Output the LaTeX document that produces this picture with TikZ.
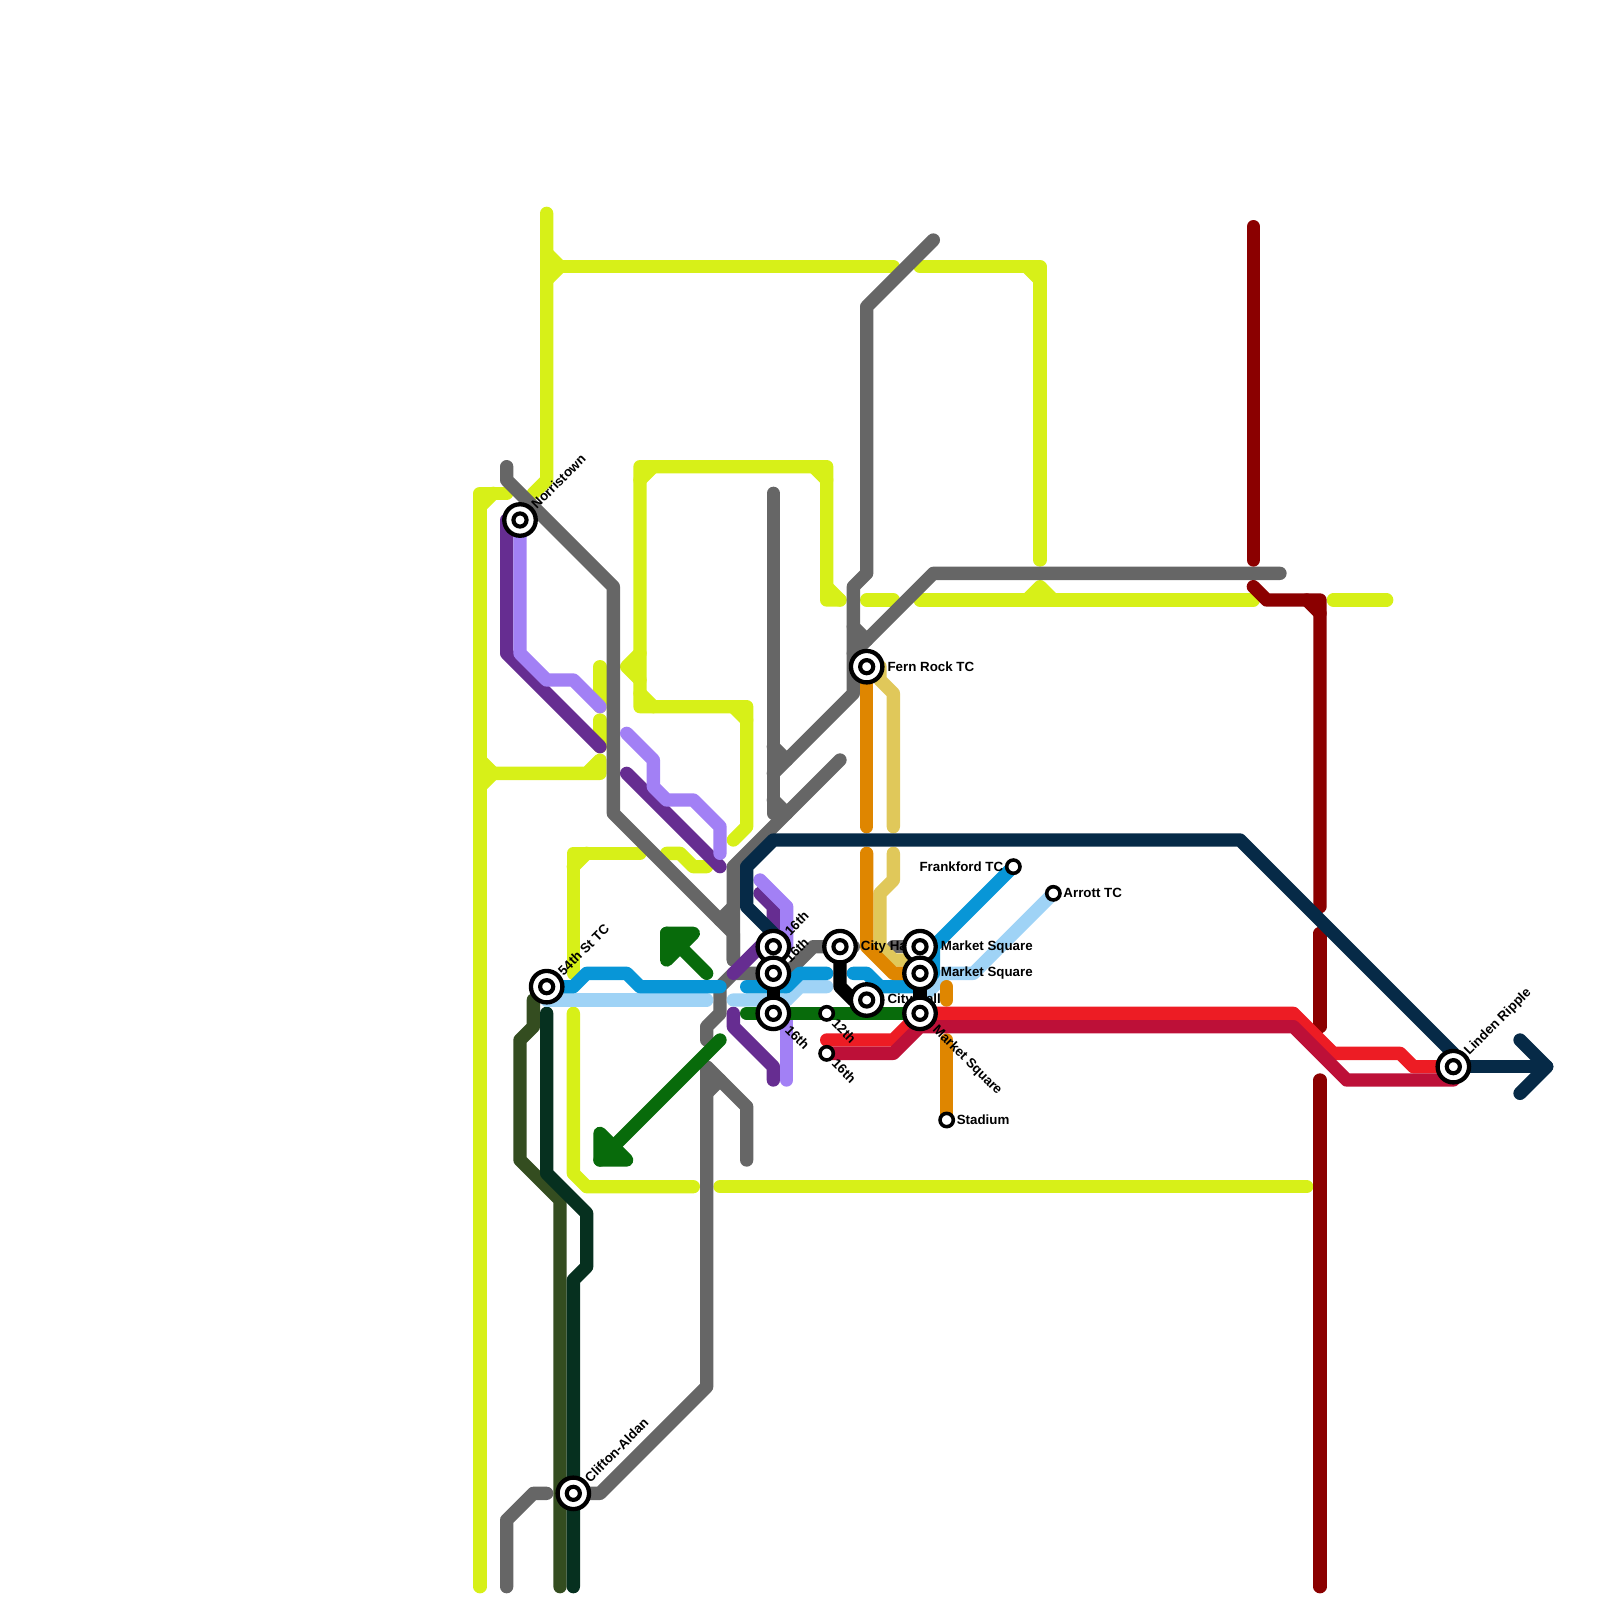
\documentclass[tikz,border=0pt]{standalone}
\usepackage{fontspec}
\setmainfont{Liberation Sans}
\usepackage{xcolor}
\usetikzlibrary{positioning}

\definecolor{ltyellow}{HTML}{D7F018}
\definecolor{ltgray}{HTML}{666666}
\definecolor{ltplum}{HTML}{662D91}
\definecolor{ltlilac}{HTML}{A280F5}
\definecolor{ltnavy}{HTML}{062A47}
\definecolor{ltmaroon}{HTML}{8B0000}
\definecolor{ltred}{HTML}{ED1C24}
\definecolor{ltcrimson}{HTML}{BD1038}
\definecolor{ltgreen}{HTML}{086B0B}
\definecolor{ltblue}{HTML}{0896D7}
\definecolor{ltsky}{HTML}{9FD3F6}
\definecolor{ltorange}{HTML}{DF8600}
\definecolor{ltmustard}{HTML}{E0C85A}
\definecolor{ltolive}{HTML}{344D20}
\definecolor{ltpine}{HTML}{06301F}

\begin{document}
\begin{tikzpicture}[x=0.25cm, y=-0.25cm,
  line/.style={draw, line width=7.11pt, line cap=round, line join=round},
  bigstop/.style={circle, draw=black, fill=white, line width=2.3pt, minimum size=16.8pt, inner sep=0pt,
    path picture={\draw[black, line width=2.2pt] (path picture bounding box.center) circle (3.5pt);}},
  smallstop/.style={circle, draw=black, fill=white, line width=1.9pt, minimum size=7.1pt, inner sep=0pt},
  stopname/.style={font=\fontsize{7.11}{8}\selectfont\bfseries, inner sep=1.4pt},
  upname/.style={stopname, rotate=45, anchor=west, inner sep=0.5pt},
  downname/.style={stopname, rotate=-45, anchor=west, inner sep=1.2pt}]
  \useasboundingbox (0,0) rectangle (120,120);

  \coordinate (norristown) at (39,39);
  \coordinate (fiftyfourth) at (41,74);
  \coordinate (clifton) at (43,112);
  \coordinate (linden) at (109,80);
  \coordinate (fernrock) at (65,50);
  \coordinate (sixteenthA) at (58,71);
  \coordinate (sixteenthB) at (58,73);
  \coordinate (sixteenthC) at (58,76);
  \coordinate (twelfth) at (62,76);
  \coordinate (sixteenthD) at (62,79);
  \coordinate (cityhallA) at (63,71);
  \coordinate (cityhallB) at (65,75);
  \coordinate (marketA) at (69,71);
  \coordinate (marketB) at (69,73);
  \coordinate (marketC) at (69,76);
  \coordinate (frankford) at (76,65);
  \coordinate (arrott) at (79,67);
  \coordinate (stadium) at (71,84);

  % yellow
  \draw [line, ltyellow] (36,119) -- (36,37) -- (38,37);
  \draw [line, ltyellow] (36,38) -- (37,37);
  \draw [line, ltyellow] (36,57) -- (37,58) -- (36,59);
  \draw [line, ltyellow] (36,58) -- (44,58) -- (45,57) -- (45,58) -- cycle;
  \draw [line, ltyellow] (45,50) -- (45,53);
  \draw [line, ltyellow] (45,54) -- (45,56);
  \draw [line, ltyellow] (41,16) -- (41,36) -- (40,37);
  \draw [line, ltyellow] (41,19) -- (42,20) -- (41,21);
  \draw [line, ltyellow] (41,20) -- (67,20);
  \draw [line, ltyellow] (69,20) -- (78,20) -- (78,42);
  \draw [line, ltyellow] (77,20) -- (78,21);
  \draw [line, ltyellow] (65,45) -- (67,45);
  \draw [line, ltyellow] (69,45) -- (94,45);
  \draw [line, ltyellow] (77,45) -- (78,44) -- (79,45);
  \draw [line, ltyellow] (100,45) -- (104,45);
  \draw [line, ltyellow] (63,45) -- (62,45) -- (62,35) -- (48,35) -- (48,53) -- (56,53) -- (56,62) -- (55,63);
  \draw [line, ltyellow] (62,44) -- (63,45);
  \draw [line, ltyellow] (61,35) -- (62,36);
  \draw [line, ltyellow] (48,36) -- (49,35);
  \draw [line, ltyellow] (48,52) -- (49,53);
  \draw [line, ltyellow] (55,53) -- (56,54);
  \draw [line, ltyellow] (48,49) -- (47,50) -- (48,51);
  \draw [line, ltyellow] (43,73) -- (43,64) -- (48,64);
  \draw [line, ltyellow] (43,65) -- (44,64);
  \draw [line, ltyellow] (50,64) -- (51,64) -- (52,65) -- (53,65);
  \draw [line, ltyellow] (43,76) -- (43,88) -- (44,89) -- (52,89);
  \draw [line, ltyellow] (54,89) -- (98,89);

  % gray
  \draw [line, ltgray] (38,35) -- (38,36) -- (46,44) -- (46,61) -- (55,70) -- (55,72);
  \draw [line, ltgray] (54,69) -- (55,68);
  \draw [line, ltgray] (63,57) -- (55,65) -- (55,72);
  \draw [line, ltgray] (58,37) -- (58,61);
  \draw [line, ltgray] (58,56) -- (59,57);
  \draw [line, ltgray] (58,60) -- (59,61);
  \draw [line, ltgray] (70,18) -- (65,23) -- (65,43) -- (64,44) -- (64,52) -- (58,58);
  \draw [line, ltgray] (96,43) -- (70,43) -- (64,49);
  \draw [line, ltgray] (64,47) -- (65,48);
  \draw [line, ltgray] (64,71) -- (61,71) -- (59,73) -- (55,73) -- (54,74) -- (54,76) -- (53,77) -- (53,78);
  \draw [line, ltgray] (67,71) -- (marketA);
  \draw [line, ltgray] (clifton) -- (45,112) -- (53,104) -- (53,80) -- (56,83) -- (56,87);
  \draw [line, ltgray] (53,82) -- (54,81);
  \draw [line, ltgray] (38,119) -- (38,114) -- (40,112) -- (41,112);

  % lines out of the west
  \draw [line, ltolive] (40,75) -- (40,77) -- (39,78) -- (39,87) -- (42,90) -- (42,119);
  \draw [line, ltpine] (41,76) -- (41,88) -- (44,91) -- (44,95) -- (43,96) -- (43,119);
  \draw [line, ltplum] (38,39) -- (38,49) -- (45,56);
  \draw [line, ltplum] (47,58) -- (54,65);
  \draw [line, ltplum] (57,67) -- (58,68) -- (sixteenthA);
  \draw [line, ltplum] (55,73) -- (58,70);
  \draw [line, ltplum] (55,76) -- (55,77) -- (58,80) -- (58,81);
  \draw [line, ltlilac] (norristown) -- (39,49) -- (41,51) -- (43,51) -- (45,53);
  \draw [line, ltlilac] (47,55) -- (49,57) -- (49,59) -- (50,60) -- (52,60) -- (54,62) -- (54,64);
  \draw [line, ltlilac] (57,66) -- (59,68) -- (59,71) -- (58,72);
  \draw [line, ltlilac] (59,76) -- (59,81);

  % market street
  \draw [line, ltsky] (41,75) -- (53,75);
  \draw [line, ltsky] (55,75) -- (59,75) -- (60,74) -- (62,74);
  \draw [line, ltsky] (arrott) -- (73,73) -- (71,73) -- (69,75);
  \draw [line, ltblue] (fiftyfourth) -- (43,74) -- (44,73) -- (47,73) -- (48,74) -- (54,74);
  \draw [line, ltblue] (56,74) -- (59,74) -- (60,73) -- (62,73);
  \draw [line, ltblue] (frankford) -- (70,71) -- (70,73) -- (69,74) -- (66,74) -- (65,73) -- (64,73);
  \draw [line, ltmustard] (66,50) -- (66,51) -- (67,52) -- (67,62);
  \draw [line, ltmustard] (67,64) -- (67,66) -- (66,67) -- (66,71) -- (67,72) -- (69,72);
  \draw [line, ltorange] (fernrock) -- (65,62);
  \draw [line, ltorange] (65,64) -- (65,71) -- (67,73) -- (69,73);
  \draw [line, ltorange] (71,74) -- (71,75);
  \draw [line, ltorange] (71,78) -- (stadium);

  % green and arrows
  \draw [line, ltgreen] (56,76) -- (marketC);
  \draw [line, ltgreen] (53,73) -- (50,70);
  \draw [line, ltgreen, fill=ltgreen] (50,70) -- (52,70) -- (50,72) -- cycle;
  \draw [line, ltgreen] (54,78) -- (45,87);
  \draw [line, ltgreen, fill=ltgreen] (45,87) -- (47,87) -- (45,85) -- cycle;

  % maroon
  \draw [line, ltmaroon] (94,17) -- (94,42);
  \draw [line, ltmaroon] (94,44) -- (95,45) -- (99,45) -- (99,68);
  \draw [line, ltmaroon] (98,45) -- (99,46);
  \draw [line, ltmaroon] (99,70) -- (99,77);
  \draw [line, ltmaroon] (99,81) -- (99,119);

  % east
  \draw [line, ltred] (linden) -- (106,80) -- (105,79) -- (100,79) -- (97,76) -- (marketC) -- (67,78) -- (62,78);
  \draw [line, ltcrimson] (109,81) -- (101,81) -- (97,77) -- (69,77) -- (67,79) -- (sixteenthD);
  \draw [line, ltnavy] (linden) -- (109,79) -- (93,63) -- (58,63) -- (56,65) -- (56,68) -- (58,70);
  \draw [line, ltnavy] (linden) -- (116,80);
  \draw [line, ltnavy] (114,78) -- (116,80) -- (114,82);

  % transfers
  \draw [line, black] (sixteenthA) -- (sixteenthC);
  \draw [line, black] (cityhallA) -- (63,74) -- (64,75) -- (cityhallB);
  \draw [line, black] (marketA) -- (marketC);

  % stations and names
  \node [smallstop] (twelfthstop) at (twelfth) {};
  \node [smallstop] (sixteenthDstop) at (sixteenthD) {};
  \node [downname, at=(twelfthstop.south east)] (twelfthname) {12th};
  \node [downname, at=(sixteenthDstop.south east)] (sixteenthDname) {16th};
  \node [bigstop] (cityhallAstop) at (cityhallA) {};
  \node [stopname, right=0pt of cityhallAstop] (cityhallAname) {City Hall};
  \node [bigstop] (cityhallBstop) at (cityhallB) {};
  \node [stopname, right=0pt of cityhallBstop] (cityhallBname) {City Hall};
  \node [bigstop] (sixteenthAstop) at (sixteenthA) {};
  \node [bigstop] (sixteenthBstop) at (sixteenthB) {};
  \node [bigstop] (sixteenthCstop) at (sixteenthC) {};
  \node [upname, at=(sixteenthAstop.north east)] (sixteenthAname) {16th};
  \node [upname, at=(sixteenthBstop.north east)] (sixteenthBname) {16th};
  \node [downname, at=(sixteenthCstop.south east)] (sixteenthCname) {16th};
  \node [bigstop] (marketAstop) at (marketA) {};
  \node [bigstop] (marketBstop) at (marketB) {};
  \node [bigstop] (marketCstop) at (marketC) {};
  \node [stopname, right=0pt of marketAstop] (marketAname) {Market Square};
  \node [stopname, right=0pt of marketBstop] (marketBname) {Market Square};
  \node [downname, at=(marketCstop.south east)] (marketCname) {Market Square};
  \node [bigstop] (norristownstop) at (norristown) {};
  \node [upname, at=(norristownstop.north east)] (norristownname) {Norristown};
  \node [bigstop] (fiftyfourthstop) at (fiftyfourth) {};
  \node [upname, at=(fiftyfourthstop.north east)] (fiftyfourthname) {54th St TC};
  \node [bigstop] (cliftonstop) at (clifton) {};
  \node [upname, at=(cliftonstop.north east)] (cliftonname) {Clifton-Aldan};
  \node [bigstop] (lindenstop) at (linden) {};
  \node [upname, at=(lindenstop.north east)] (lindenname) {Linden Ripple};
  \node [bigstop] (fernrockstop) at (fernrock) {};
  \node [stopname, right=0pt of fernrockstop] (fernrockname) {Fern Rock TC};
  \node [smallstop] (frankfordstop) at (frankford) {};
  \node [stopname, left=-0.7pt of frankfordstop] (frankfordname) {Frankford TC};
  \node [smallstop] (arrottstop) at (arrott) {};
  \node [stopname, right=-0.7pt of arrottstop] (arrottname) {Arrott TC};
  \node [smallstop] (stadiumstop) at (stadium) {};
  \node [stopname, right=-0.7pt of stadiumstop] (stadiumname) {Stadium};
\end{tikzpicture}
\end{document}
